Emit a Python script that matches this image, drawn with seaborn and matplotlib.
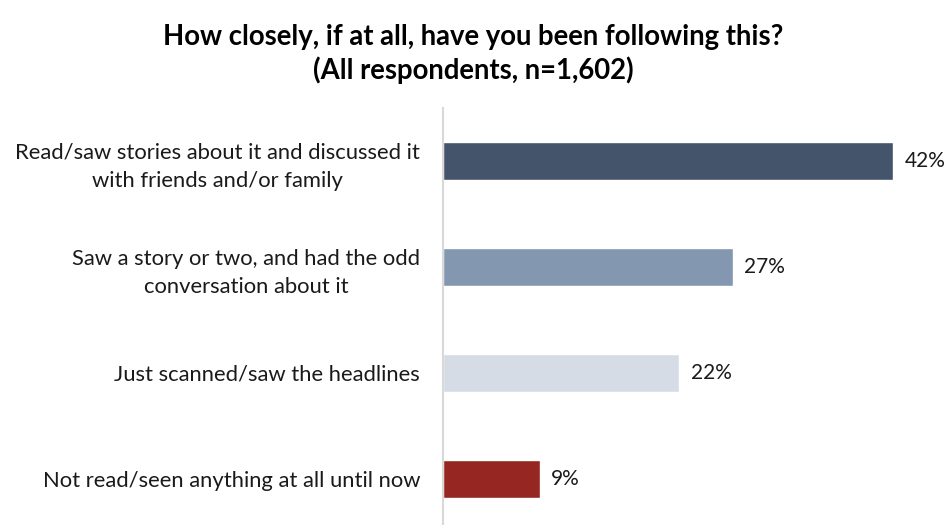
import matplotlib
matplotlib.use("Agg")
import matplotlib.pyplot as plt
import pandas as pd
import seaborn as sns

# Survey responses and share of respondents (%)
categories = [
    "Read/saw stories about it and discussed it\nwith friends and/or family",
    "Saw a story or two, and had the odd\nconversation about it",
    "Just scanned/saw the headlines",
    "Not read/seen anything at all until now",
]
values = [42, 27, 22, 9]
value_labels = ["42%", "27%", "22%", "9%"]
colors = ["#44546A", "#8497B0", "#D6DCE5", "#952622"]

title = "How closely, if at all, have you been following this?\n(All respondents, n=1,602)"

sns.set_theme(style="white")
plt.rcParams["font.family"] = ["Lato", "DejaVu Sans"]

df = pd.DataFrame({"category": categories, "value": values})

fig = plt.figure(figsize=(9.47, 5.25), dpi=100)
ax = fig.add_axes([443 / 947, 0, 1 - 443 / 947, 1 - 108 / 525])

sns.barplot(
    data=df, y="category", x="value", hue="category",
    palette=colors, legend=False, width=0.36, ax=ax, orient="h",
    saturation=1,
)

ax.set_xlim(0, 47)
ax.set_ylim(3.434, -0.5)
ax.set_xlabel("")
ax.set_ylabel("")
ax.set_xticks([])
for s in ["top", "right", "bottom"]:
    ax.spines[s].set_visible(False)
ax.spines["left"].set_color("#D9D9D9")
ax.spines["left"].set_linewidth(1.5)

ax.tick_params(axis="y", length=0, pad=16.5)
for lbl in ax.get_yticklabels():
    lbl.set_fontsize(15.8)
    lbl.set_color("#1a1a1a")
    lbl.set_horizontalalignment("right")
    lbl.set_multialignment("center")
    lbl.set_linespacing(1.5)

for i, (v, t) in enumerate(zip(values, value_labels)):
    ax.text(v + 1.1, i, t, va="center", ha="left", fontsize=15, color="#1a1a1a")

fig.text(0.5, 1 - 54 / 525, title, ha="center", va="center",
         fontsize=19.8, fontweight="bold", color="#000000", linespacing=1.3)

fig.savefig("out.png", dpi=100)
